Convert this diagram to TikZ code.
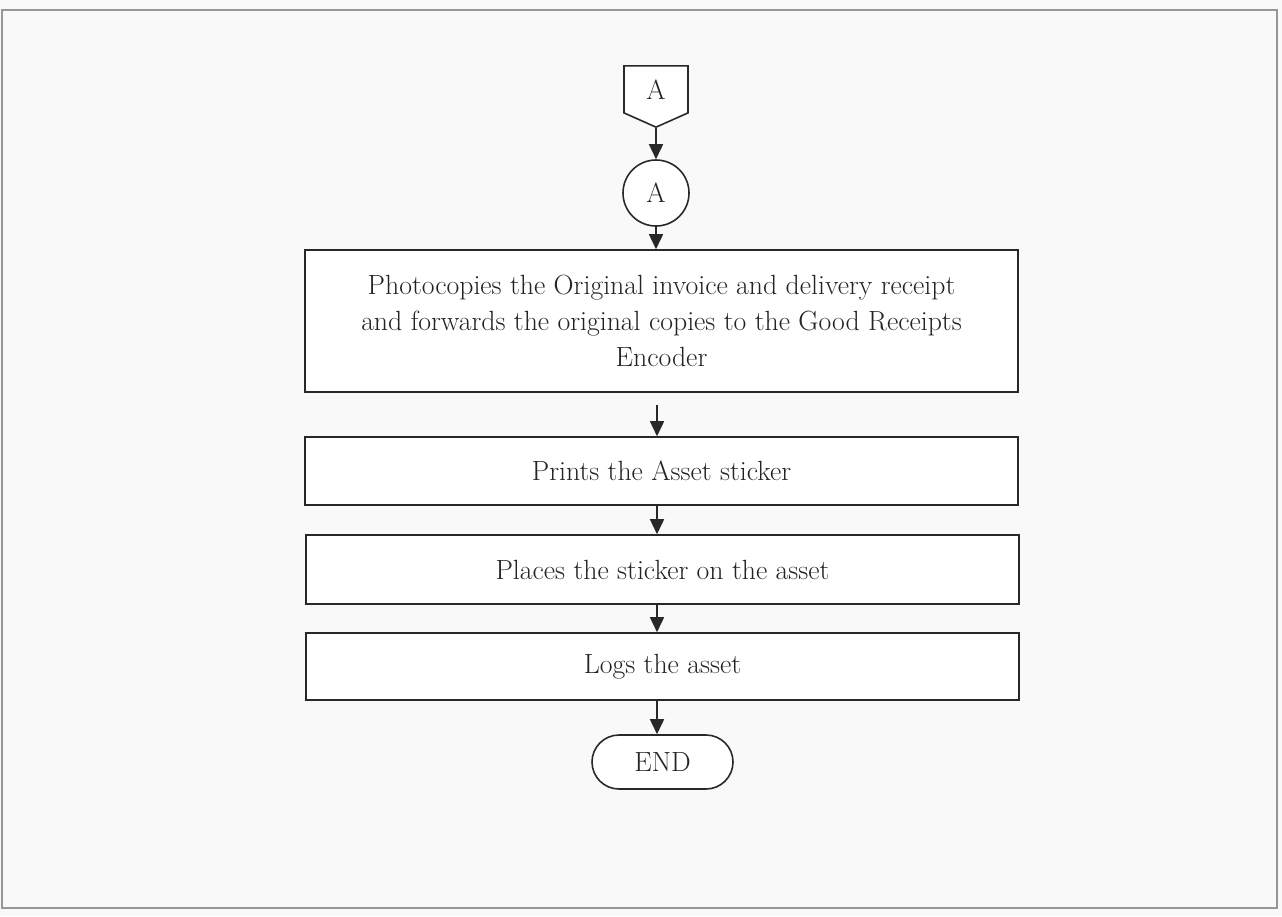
\documentclass[tikz,border=0pt]{standalone}
\usepackage{xcolor}
\usepackage{tikz}
\usetikzlibrary{shapes.geometric, shapes.symbols, arrows.meta, positioning, calc}
\definecolor{fondPage}{RGB}{249, 249, 249}
\definecolor{cadreGris}{RGB}{150, 150, 150}
\definecolor{traitNoir}{RGB}{40, 40, 40}
\definecolor{texteNoir}{RGB}{35, 35, 35}

\begin{document}
\begin{tikzpicture}[
  etape/.style={rectangle, draw=traitNoir, fill=white, line width=0.9pt,
    minimum width=14.26cm, align=center, text=texteNoir,
    font=\fontsize{15.8}{20.5}\selectfont},
  renvoi/.style={signal, signal to=south, signal pointer angle=132,
    draw=traitNoir, fill=white, line width=0.9pt, minimum width=1.28cm,
    minimum height=1.08cm, text=texteNoir, font=\fontsize{15.8}{18}\selectfont},
  cercle/.style={circle, draw=traitNoir, fill=white, line width=0.9pt,
    minimum size=1.32cm, inner sep=0pt, text=texteNoir,
    font=\fontsize{15.8}{18}\selectfont},
  fin/.style={rectangle, rounded corners=0.54cm, draw=traitNoir, fill=white,
    line width=0.9pt, minimum width=2.82cm, minimum height=1.08cm,
    text=texteNoir, font=\fontsize{15.8}{18}\selectfont},
  arr/.style={-{Triangle[length=3mm, width=2.8mm]}, line width=0.9pt,
    draw=traitNoir},
]
\useasboundingbox (0,0) rectangle (25.64,-18.32);
\fill[fondPage] (0,0) rectangle (25.64,-18.32);
\draw[cadreGris, line width=1pt] (0.04,-0.20) rectangle (25.54,-18.16);

\node[renvoi, anchor=north] (connA) at (13.12,-1.30) {A};
\node[cercle] (circA) at (13.12,-3.86) {A};
\node[etape, minimum height=2.84cm] (photo) at (13.23,-6.42)
  {Photocopies the Original invoice and delivery receipt\\
   and forwards the original copies to the Good Receipts\\
   Encoder};
\coordinate (depart) at (13.14,-8.10);
\node[etape, minimum height=1.36cm] (prints) at (13.23,-9.42)
  {Prints the Asset sticker};
\node[etape, minimum height=1.38cm] (places) at (13.25,-11.39)
  {Places the sticker on the asset};
\node[etape, minimum height=1.34cm] (logs) at (13.25,-13.33)
  {Logs the asset};
\node[fin] (endN) at (13.25,-15.24) {END};

\draw[arr] (connA.south) -- (circA.north);
\draw[arr] (circA.south) -- (photo.north -| circA);
\draw[arr] (depart) -- (prints.north -| depart);
\draw[arr] (prints.south -| depart) -- (places.north -| depart);
\draw[arr] (places.south -| depart) -- (logs.north -| depart);
\draw[arr] (logs.south -| depart) -- (endN.north -| depart);
\end{tikzpicture}
\end{document}
